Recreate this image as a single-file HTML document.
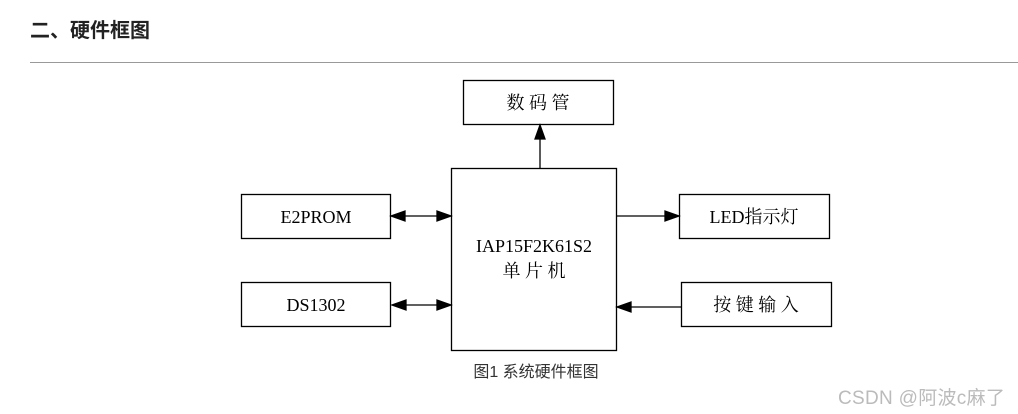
<!DOCTYPE html>
<html><head><meta charset="utf-8"><style>
body{margin:0;width:1018px;height:414px;background:#fff;overflow:hidden;position:relative;font-family:"Liberation Sans","Noto Sans CJK SC",sans-serif}
.h{position:absolute;left:30px;top:14px;font-size:20px;font-weight:bold;color:#222}
.hr{position:absolute;left:30px;top:62px;width:988px;height:1px;background:#999}
svg{position:absolute;left:0;top:0}
.cap{position:absolute;left:0;width:1072px;top:358px;text-align:center;font-size:16px;color:#333}
.wm{position:absolute;left:838px;top:383px;font-size:19px;color:#bbb;letter-spacing:0.3px}
</style></head><body>
<div class="h">二、硬件框图</div>
<div class="hr"></div>
<svg width="1018" height="414" xmlns="http://www.w3.org/2000/svg" font-family="'Liberation Serif','Noto Serif CJK SC',serif" font-size="18" fill="none" stroke="#000" stroke-width="1.3">
<rect x="463.5" y="80.5" width="150" height="44"/>
<rect x="451.5" y="168.5" width="165" height="182"/>
<rect x="241.5" y="194.5" width="149" height="44"/>
<rect x="241.5" y="282.5" width="149" height="44"/>
<rect x="679.5" y="194.5" width="150" height="44"/>
<rect x="681.5" y="282.5" width="150" height="44"/>
<line x1="540" y1="168" x2="540" y2="138"/>
<polygon points="540,125 535,139 545,139" fill="#000"/>
<line x1="400" y1="216" x2="442" y2="216"/>
<polygon points="391,216 405,211 405,221" fill="#000"/>
<polygon points="451,216 437,211 437,221" fill="#000"/>
<line x1="400" y1="305" x2="442" y2="305"/>
<polygon points="392,305 406,300 406,310" fill="#000"/>
<polygon points="451,305 437,300 437,310" fill="#000"/>
<line x1="617" y1="216" x2="668" y2="216"/>
<polygon points="679,216 665,211 665,221" fill="#000"/>
<line x1="630" y1="307" x2="681" y2="307"/>
<polygon points="617,307 631,302 631,312" fill="#000"/>
<g fill="#000" stroke="none" text-anchor="middle">
<text x="538" y="109">数 码 管</text>
<text x="316" y="223">E2PROM</text>
<text x="316" y="311">DS1302</text>
<text x="754" y="223">LED指示灯</text>
<text x="756" y="311">按 键 输 入</text>
<text x="534" y="252">IAP15F2K61S2</text>
<text x="534" y="277">单 片 机</text>
</g>
</svg>
<div class="cap">图1 系统硬件框图</div>
<div class="wm">CSDN @阿波c麻了</div>
</body></html>
